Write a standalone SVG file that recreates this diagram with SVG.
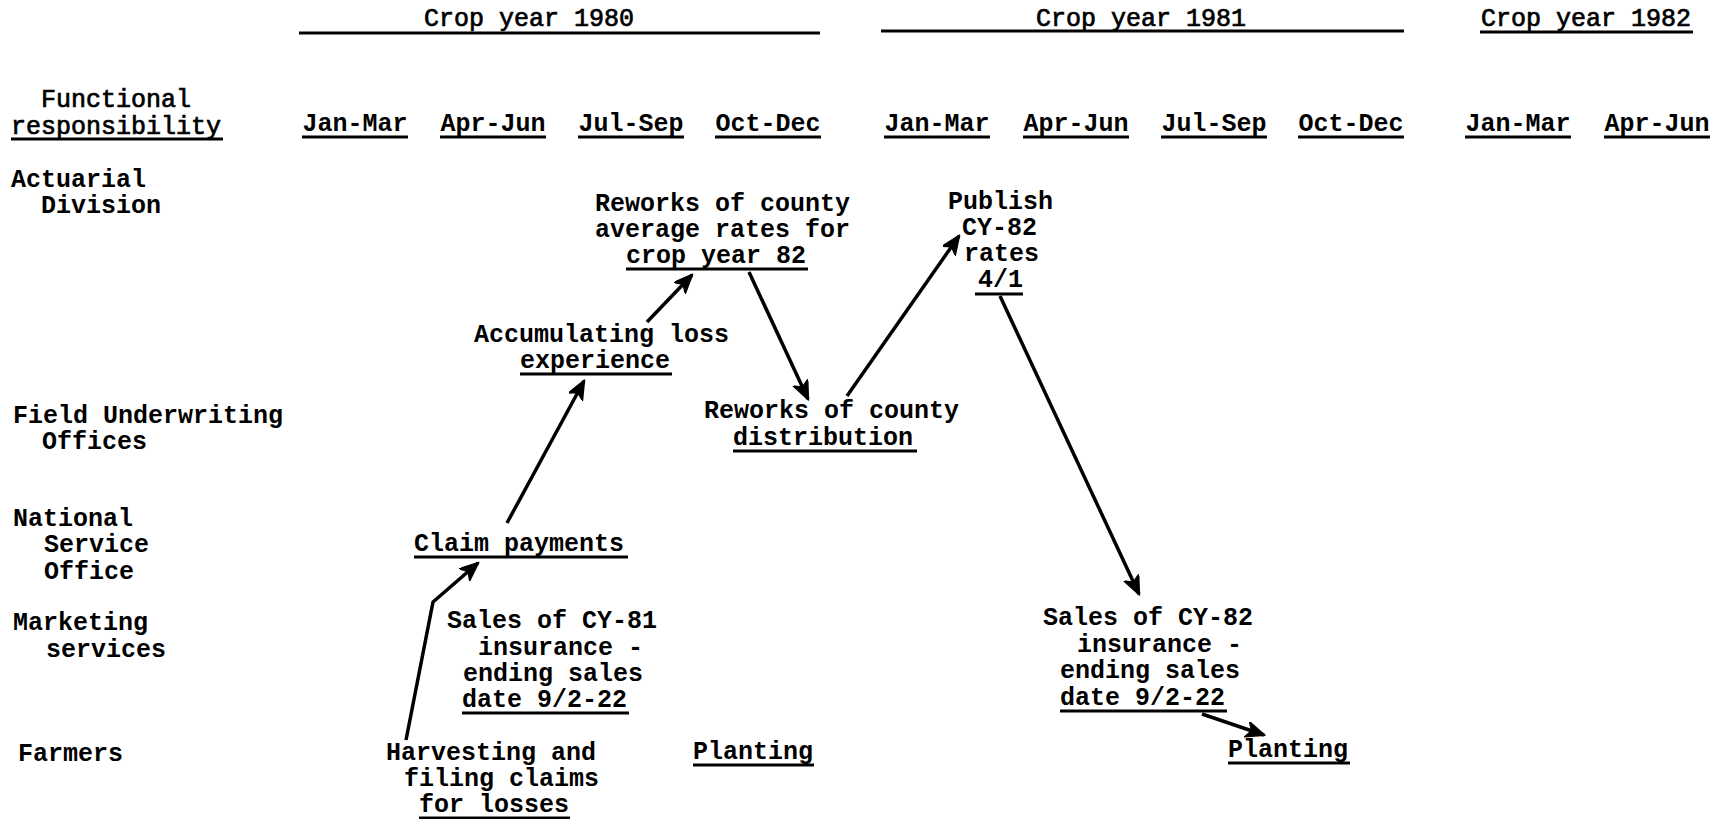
<svg xmlns="http://www.w3.org/2000/svg" width="1721" height="819" viewBox="0 0 1721 819">
<style>
text{font-family:"Liberation Mono","DejaVu Sans Mono",monospace;font-size:25px;font-weight:bold;fill:#000}
.lt{font-weight:normal;stroke:#000;stroke-width:0.7}
.c{text-anchor:middle}
.ul{stroke:#000;stroke-width:3;fill:none}
.ar{stroke:#000;stroke-width:3.5;fill:none;stroke-linejoin:round;marker-end:url(#ah)}
</style>
<defs>
<marker id="ah" markerUnits="userSpaceOnUse" markerWidth="22" markerHeight="18" refX="18" refY="8" orient="auto">
<path d="M0,0 L19,8 L0,16 L5,8 z" fill="#000" stroke="#000" stroke-width="1.5" stroke-linejoin="round"/>
</marker>
</defs>
<rect width="1721" height="819" fill="#fff"/>

<g id="header">
<text class="c lt" x="529" y="26">Crop year 1980</text>
<line class="ul" x1="299" y1="33" x2="820" y2="33"/>
<text class="c lt" x="1141" y="26">Crop year 1981</text>
<line class="ul" x1="881" y1="31" x2="1404" y2="31"/>
<text class="c lt" x="1586" y="26">Crop year 1982</text>
<line class="ul" x1="1480" y1="32" x2="1693" y2="32"/>
<g id="columns">
<text class="c" x="355" y="131">Jan-Mar</text><line class="ul" x1="302" y1="137" x2="408" y2="137"/>
<text class="c" x="493" y="131">Apr-Jun</text><line class="ul" x1="440" y1="137" x2="546" y2="137"/>
<text class="c" x="631" y="131">Jul-Sep</text><line class="ul" x1="578" y1="137" x2="684" y2="137"/>
<text class="c" x="768" y="131">Oct-Dec</text><line class="ul" x1="715" y1="137" x2="821" y2="137"/>
<text class="c" x="937" y="131">Jan-Mar</text><line class="ul" x1="884" y1="137" x2="990" y2="137"/>
<text class="c" x="1076" y="131">Apr-Jun</text><line class="ul" x1="1023" y1="137" x2="1129" y2="137"/>
<text class="c" x="1214" y="131">Jul-Sep</text><line class="ul" x1="1161" y1="137" x2="1267" y2="137"/>
<text class="c" x="1351" y="131">Oct-Dec</text><line class="ul" x1="1298" y1="137" x2="1404" y2="137"/>
<text class="c" x="1518" y="131">Jan-Mar</text><line class="ul" x1="1465" y1="137" x2="1571" y2="137"/>
<text class="c" x="1657" y="131">Apr-Jun</text><line class="ul" x1="1604" y1="137" x2="1710" y2="137"/>
</g>
</g>

<g id="rows">
<text class="lt" x="41" y="107">Functional</text>
<text class="lt" x="11" y="134">responsibility</text>
<line class="ul" x1="11" y1="139" x2="223" y2="139"/>
<text x="11" y="187">Actuarial</text>
<text x="41" y="213">Division</text>
<text x="13" y="423">Field Underwriting</text>
<text x="42" y="449">Offices</text>
<text x="13" y="526">National</text>
<text x="44" y="552">Service</text>
<text x="44" y="579">Office</text>
<text x="13" y="630">Marketing</text>
<text x="46" y="657">services</text>
<text x="18" y="761">Farmers</text>
</g>

<g id="node-reworks-rates">
<text x="595" y="211">Reworks of county</text>
<text x="595" y="237">average rates for</text>
<text x="626" y="263">crop year 82</text>
<line class="ul" x1="626" y1="269" x2="808" y2="269"/>
</g>
<g id="node-accumulating">
<text x="474" y="342">Accumulating loss</text>
<text x="520" y="368">experience</text>
<line class="ul" x1="520" y1="374" x2="672" y2="374"/>
</g>
<g id="node-publish">
<text x="948" y="209">Publish</text>
<text x="962" y="235">CY-82</text>
<text x="964" y="261">rates</text>
<text x="978" y="287">4/1</text>
<line class="ul" x1="975" y1="294" x2="1023" y2="294"/>
</g>
<g id="node-reworks-distribution">
<text x="704" y="418">Reworks of county</text>
<text x="733" y="445">distribution</text>
<line class="ul" x1="733" y1="451" x2="917" y2="451"/>
</g>
<g id="node-claim">
<text x="414" y="551">Claim payments</text>
<line class="ul" x1="414" y1="557" x2="628" y2="557"/>
</g>
<g id="node-sales81">
<text x="447" y="628">Sales of CY-81</text>
<text x="478" y="655">insurance -</text>
<text x="463" y="681">ending sales</text>
<text x="462" y="707">date 9/2-22</text>
<line class="ul" x1="462" y1="713" x2="629" y2="713"/>
</g>
<g id="node-harvesting">
<text x="386" y="760">Harvesting and</text>
<text x="404" y="786">filing claims</text>
<text x="419" y="812">for losses</text>
<line class="ul" x1="419" y1="818" x2="570" y2="818"/>
</g>
<g id="node-planting1">
<text x="693" y="759">Planting</text>
<line class="ul" x1="693" y1="765" x2="814" y2="765"/>
</g>
<g id="node-sales82">
<text x="1043" y="625">Sales of CY-82</text>
<text x="1077" y="652">insurance -</text>
<text x="1060" y="678">ending sales</text>
<text x="1060" y="705">date 9/2-22</text>
<line class="ul" x1="1060" y1="711" x2="1227" y2="711"/>
</g>
<g id="node-planting2">
<text x="1228" y="757">Planting</text>
<line class="ul" x1="1228" y1="763" x2="1350" y2="763"/>
</g>

<g id="connectors">
<polyline class="ar" points="406,740 433,602 478,563"/>
<line class="ar" x1="507" y1="523" x2="584" y2="381"/>
<line class="ar" x1="647" y1="322" x2="692" y2="275"/>
<line class="ar" x1="749" y1="272" x2="808" y2="399"/>
<line class="ar" x1="847" y1="396" x2="959" y2="236"/>
<line class="ar" x1="1000" y1="296" x2="1139" y2="594"/>
<line class="ar" x1="1202" y1="714" x2="1264" y2="735"/>
</g>
</svg>
